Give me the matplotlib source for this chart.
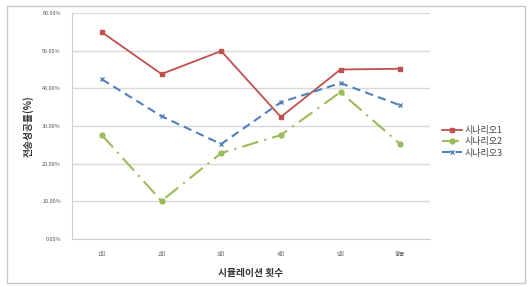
import matplotlib
matplotlib.use("Agg")
import matplotlib.pyplot as plt
from matplotlib.patches import Rectangle

plt.rcParams['font.family'] = ['Noto Sans CJK KR', 'DejaVu Sans']

categories = ["1회", "2회", "3회", "4회", "5회", "평균"]
s1 = [54.9, 43.8, 49.9, 32.4, 45.0, 45.2]
s2 = [27.6, 10.1, 22.8, 27.6, 39.0, 25.2]
s3 = [42.4, 32.6, 25.2, 36.3, 41.4, 35.5]
series_names = ["시나리오1", "시나리오2", "시나리오3"]
yticks = [0, 10, 20, 30, 40, 50, 60]
ytick_labels = ["0.00%", "10.00%", "20.00%", "30.00%", "40.00%", "50.00%", "60.00%"]

W, H = 532, 287
fig = plt.figure(figsize=(W/100, H/100), dpi=100)
fig.patch.set_facecolor("white")

# outer chart border
fig.patches.append(Rectangle((7/W, 1 - 283/H), (525-7)/W, (283-6)/H,
                             transform=fig.transFigure, fill=False,
                             edgecolor="#c8c8c8", linewidth=1.0))

ax = fig.add_axes([72/W, 1 - 239/H, (430-72)/W, (239-13)/H])
x = list(range(len(categories)))

ax.plot(x, s1, color="#C0504D", linestyle="-", linewidth=1.3,
        marker="s", markersize=3, label=series_names[0])
ax.plot(x, s2, color="#9BBB59", linestyle=(0, (8, 3, 1, 3)), linewidth=1.5,
        marker="o", markersize=3.5, label=series_names[1])
ax.plot(x, s3, color="#4F81BD", linestyle=(0, (4, 2.5)), linewidth=1.5,
        marker="x", markersize=3.5, markeredgewidth=1.0, label=series_names[2])

ax.set_xlim(-0.5, len(categories) - 0.5)
ax.set_ylim(0, 60)
ax.set_yticks(yticks)
ax.set_yticklabels(ytick_labels, fontsize=4, color="#555555")
ax.set_xticks(x)
ax.set_xticklabels(categories, fontsize=4, color="#555555")
ax.tick_params(length=0, pad=8)
ax.tick_params(axis="x", pad=9)
ax.grid(axis="y", color="#d9d9d9", linewidth=1.0)
ax.set_axisbelow(True)
for side in ["top", "right"]:
    ax.spines[side].set_visible(False)
ax.spines["left"].set_color("#d0d0d0")
ax.spines["bottom"].set_color("#d0d0d0")

ax.set_xlabel("시뮬레이션 횟수", fontsize=7, fontweight="bold", color="#333333", labelpad=8)
ax.set_ylabel("전송성공률(%)", fontsize=7, fontweight="bold", color="#333333", labelpad=6)

leg = ax.legend(loc="center left", bbox_to_anchor=(1.01, 0.43), frameon=False,
                fontsize=6.5, handlelength=2.2, labelspacing=0.25, handletextpad=0.3)
for t in leg.get_texts():
    t.set_color("#444444")

fig.savefig("out.png", dpi=100)
